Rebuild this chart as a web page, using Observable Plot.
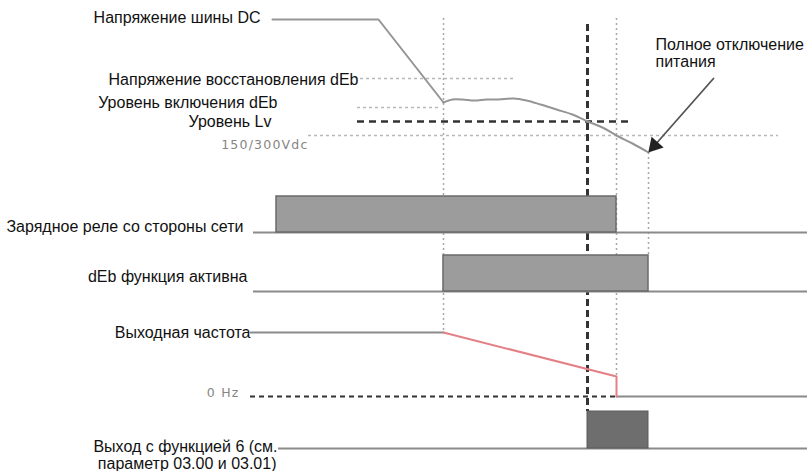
<!DOCTYPE html>
<html>
<head>
<meta charset="utf-8">
<script src="https://cdn.jsdelivr.net/npm/d3@7"></script>
<script src="https://cdn.jsdelivr.net/npm/@observablehq/plot@0.6"></script>
<style>
  html, body { margin: 0; padding: 0; background: #fff; }
  #chart svg { display: block; }
</style>
</head>
<body>
<div id="chart"></div>
<script>
// ---- Data (schematic time axis t, level axis v) ----
// Event instants on the time axis
const eventNames = ["dEbStart", "lvReached", "relayOff", "powerOff"];
const eventTimes = [443, 587, 616, 648];

// DC bus voltage trace (t, v)
const busT = [272, 378, 443, 452, 462, 474, 486, 498, 513, 526, 540, 556, 572, 587, 602, 616, 632, 648];
const busV = [19, 19, 102, 99, 99, 100, 99, 99, 98, 100, 104, 109, 114, 121, 127, 135, 143, 152];

// Reference voltage levels
const levelNames = ["Напряжение восстановления dEb", "Уровень включения dEb", "Уровень Lv", "150/300Vdc"];
const levelV = [78, 107, 121, 135];
const levelFrom = [360, 357, 357, 308];
const levelTo = [513, 440, 632, 778];

// Digital signal rows: name, low level, high level, on time, off time, line start
const rowNames = ["Зарядное реле со стороны сети", "dEb функция активна", "Выход с функцией 6"];
const rowLow = [232, 291, 448];
const rowHigh = [196, 255, 411];
const rowOn = [276, 443, 587];
const rowOff = [616, 648, 648];
const rowStart = [253, 253, 278];

// Output frequency
const freqT = [250, 443, 616, 616, 807];
const freqV = [332, 332, 376, 396, 396];
const zeroHzV = 396;

// Labels
const labelText = [
  "Напряжение шины DC",
  "Напряжение восстановления dEb",
  "Уровень включения dEb",
  "Уровень Lv",
  "Зарядное реле со стороны сети",
  "dEb функция активна",
  "Выходная частота",
  "Выход с функцией 6 (см.",
  "параметр 03.00 и 03.01)"
];
const labelT = [260, 358, 277, 271, 243, 247, 250, 277, 276];
const labelV = [17, 79, 102, 121, 226, 276, 332, 446, 463];

const noteText = ["Полное отключение", "питания"];
const noteT = [655, 655];
const noteV = [44, 61];

const grayLabels = ["150/300Vdc", "0 Hz"];
const grayT = [308, 239];
const grayV = [144, 392];

const arrowFrom = [713, 78];
const arrowTo = [654, 145];
const tMax = 807, vMax = 471;

// ---- Build tables ----
const bus = busT.map((t, i) => ({t, v: busV[i]}));
const busSharp = bus.slice(0, 3);
const busSmooth = bus.slice(2);
const levels = levelNames.map((n, i) => ({n, v: levelV[i], a: levelFrom[i], b: levelTo[i]}));
const rows = rowNames.map((n, i) => ({n, lo: rowLow[i], hi: rowHigh[i], on: rowOn[i], off: rowOff[i], s: rowStart[i]}));
const freq = freqT.map((t, i) => ({t, v: freqV[i]}));
const labels = labelText.map((s, i) => ({s, t: labelT[i], v: labelV[i]}));
const notes = noteText.map((s, i) => ({s, t: noteT[i], v: noteV[i]}));
const grays = grayLabels.map((s, i) => ({s, t: grayT[i], v: grayV[i]}));

const vGuides = [
  {t: eventTimes[0], a: 18, b: freqV[1]},
  {t: eventTimes[2], a: 18, b: freqV[2]},
  {t: eventTimes[3], a: busV[busV.length - 1], b: rowHigh[1]}
];
const vDash = [{t: eventTimes[1], a: 24, b: rowHigh[2]}];

const font = "Liberation Sans, Arial, sans-serif";

const plot = Plot.plot({
  width: 807,
  height: 471,
  margin: 0,
  style: {background: "#fff", fontFamily: font},
  x: {domain: [0, tMax], range: [0, 807], axis: null},
  y: {domain: [0, vMax], range: [0, 471], axis: null},
  marks: [
    // dotted guides
    Plot.ruleX(vGuides, {x: "t", y1: "a", y2: "b", stroke: "#a8a8a8", strokeWidth: 1.5, strokeDasharray: "2,3"}),
    Plot.ruleY(levels.filter(d => d.n !== "Уровень Lv"), {y: "v", x1: "a", x2: "b", stroke: "#b8b8b8", strokeWidth: 1.5, strokeDasharray: "3,3"}),
    // thick dashed vertical (behind the bars)
    Plot.ruleX(vDash, {x: "t", y1: "a", y2: "b", stroke: "#333", strokeWidth: 3, strokeDasharray: "7,4"}),
    // signal rows
    Plot.ruleY(rows, {y: "lo", x1: "s", x2: tMax, stroke: "#8a8a8a", strokeWidth: 2}),
    Plot.rect(rows.slice(0, 2), {x1: "on", x2: "off", y1: "hi", y2: "lo", fill: "#9c9c9c", stroke: "#6a6a6a", strokeWidth: 1.5}),
    Plot.rect(rows.slice(2), {x1: "on", x2: "off", y1: "hi", y2: "lo", fill: "#6e6e6e", stroke: "#5a5a5a", strokeWidth: 1}),
    // frequency
    Plot.line(freq.slice(0, 2), {x: "t", y: "v", stroke: "#8a8a8a", strokeWidth: 2}),
    Plot.line(freq.slice(3), {x: "t", y: "v", stroke: "#8a8a8a", strokeWidth: 2}),
    Plot.ruleY([zeroHzV], {x1: 250, x2: eventTimes[2], stroke: "#333", strokeWidth: 2, strokeDasharray: "5,4"}),
    Plot.line(freq.slice(1, 4), {x: "t", y: "v", stroke: "#e57f86", strokeWidth: 2}),
    // Lv thick dashed
    Plot.ruleY(levels.filter(d => d.n === "Уровень Lv"), {y: "v", x1: "a", x2: "b", stroke: "#333", strokeWidth: 2.5, strokeDasharray: "7,5"}),
    // DC bus
    Plot.line(busSharp, {x: "t", y: "v", stroke: "#959595", strokeWidth: 2}),
    Plot.line(busSmooth, {x: "t", y: "v", stroke: "#959595", strokeWidth: 2, curve: "catmull-rom"}),
    // arrow
    Plot.arrow([{x1: arrowFrom[0], y1: arrowFrom[1], x2: arrowTo[0], y2: arrowTo[1]}], {x1: "x1", y1: "y1", x2: "x2", y2: "y2", stroke: "#555", strokeWidth: 1.8, headLength: 0}),
    Plot.dot([{x: arrowTo[0], y: arrowTo[1]}], {x: "x", y: "y", symbol: "triangle", r: 6, fill: "#222", stroke: "none", rotate: 221.6}),
    // labels
    Plot.text(labels, {x: "t", y: "v", text: "s", textAnchor: "end", fill: "#111", fontSize: 16, fontFamily: font}),
    Plot.text(notes, {x: "t", y: "v", text: "s", textAnchor: "start", fill: "#111", fontSize: 16, fontFamily: font}),
    Plot.text(grays, {x: "t", y: "v", text: "s", textAnchor: "end", fill: "#858585", fontSize: 12.5, fontFamily: "DejaVu Sans, sans-serif"})
  ]
});

d3.select(plot).selectAll("text").each(function() {
  const s = this.textContent;
  if (s === "150/300Vdc" || s === "0 Hz") d3.select(this).attr("letter-spacing", "1.2px");
});

document.getElementById("chart").appendChild(plot);
</script>
</body>
</html>
